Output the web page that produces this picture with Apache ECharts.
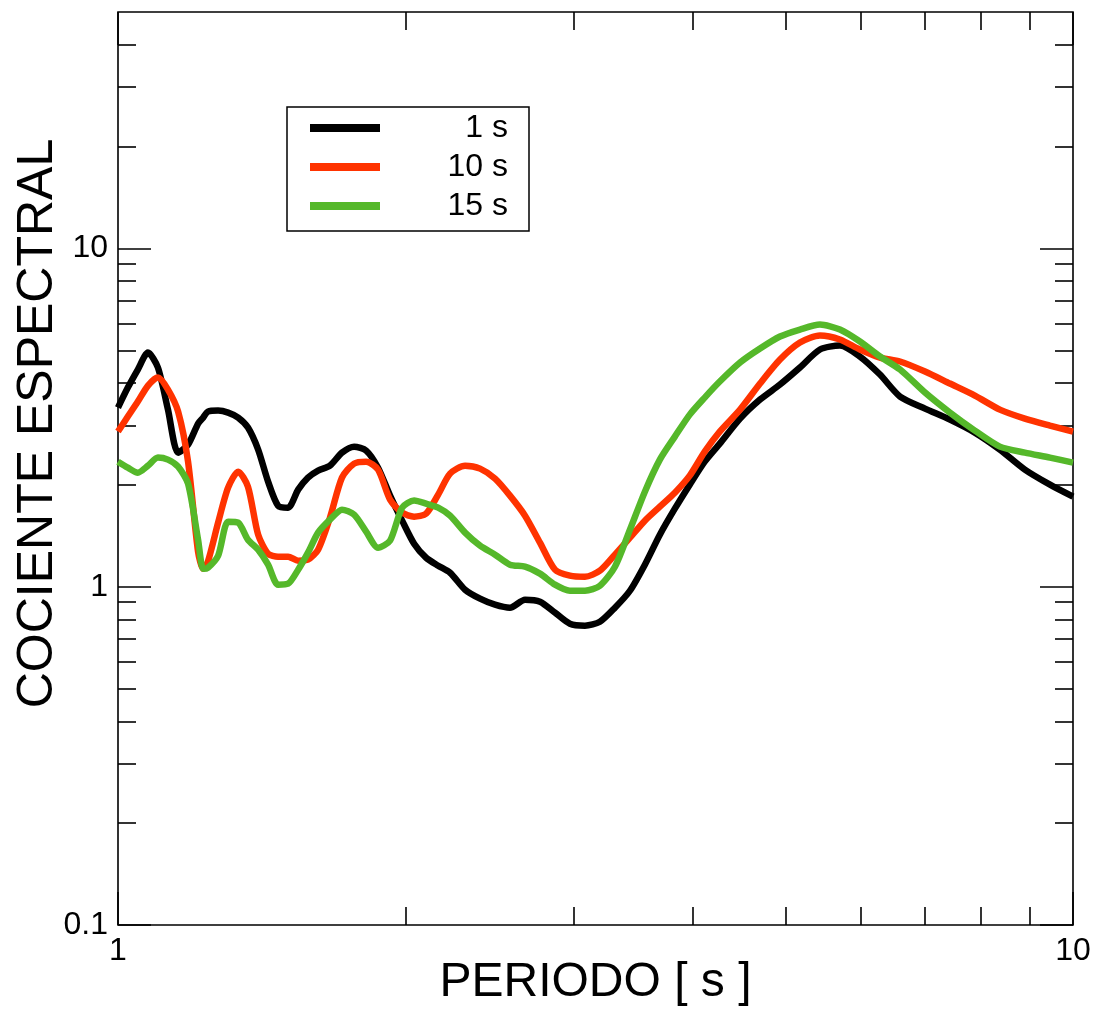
<!DOCTYPE html>
<html>
<head>
<meta charset="utf-8">
<script src="https://cdn.jsdelivr.net/npm/echarts@6/dist/echarts.min.js"></script>
<style>
  html, body { margin: 0; padding: 0; background: #ffffff; }
  #chart { width: 1103px; height: 1010px; }
</style>
</head>
<body>
<div id="chart"></div>
<script>
// Period axis samples [s]
const periods = [
  1.000, 1.024, 1.049, 1.075, 1.101, 1.128, 1.156, 1.184, 1.213, 1.228,
  1.242, 1.273, 1.304, 1.336, 1.368, 1.402, 1.436, 1.471, 1.507, 1.544,
  1.581, 1.620, 1.667, 1.716, 1.767, 1.819, 1.872, 1.927, 1.984, 2.042,
  2.102, 2.164, 2.227, 2.309, 2.394, 2.482, 2.573, 2.668, 2.766, 2.868,
  2.973, 3.083, 3.196, 3.314, 3.436, 3.562, 3.693, 3.829, 3.969, 4.115,
  4.267, 4.481, 4.702, 4.934, 5.177, 5.433, 5.701, 5.983, 6.279, 6.590,
  6.999, 7.432, 7.893, 8.383, 8.904, 9.460, 10.000
];

// Spectral ratio, 1 s window
const ratio1s = [
  3.385, 3.879, 4.386, 4.924, 4.446, 3.339, 2.491, 2.631, 3.036, 3.162,
  3.294, 3.317, 3.272, 3.162, 2.954, 2.543, 2.045, 1.736, 1.713, 1.936,
  2.101, 2.204, 2.280, 2.491, 2.595, 2.526, 2.249, 1.859, 1.568, 1.340,
  1.218, 1.154, 1.100, 0.980, 0.922, 0.885, 0.867, 0.915, 0.903, 0.838,
  0.777, 0.767, 0.788, 0.867, 0.973, 1.162, 1.425, 1.701, 2.003, 2.343,
  2.649, 3.141, 3.575, 3.960, 4.446, 5.026, 5.164, 4.792, 4.238, 3.649,
  3.362, 3.120, 2.855, 2.543, 2.219, 2.003, 1.846
];

// Spectral ratio, 10 s window
const ratio10s = [
  2.875, 3.184, 3.527, 3.933, 4.153, 3.827, 3.294, 2.343, 1.269, 1.130,
  1.186, 1.547, 1.963, 2.189, 1.976, 1.425, 1.252, 1.227, 1.227, 1.194,
  1.202, 1.287, 1.600, 2.101, 2.312, 2.343, 2.219, 1.809, 1.655, 1.611,
  1.644, 1.872, 2.159, 2.280, 2.234, 2.087, 1.859, 1.622, 1.350, 1.123,
  1.078, 1.070, 1.115, 1.244, 1.396, 1.568, 1.725, 1.897, 2.130, 2.508,
  2.875, 3.339, 3.987, 4.694, 5.271, 5.528, 5.380, 5.026, 4.759, 4.632,
  4.326, 3.987, 3.674, 3.339, 3.141, 2.995, 2.875
];

// Spectral ratio, 15 s window
const ratio15s = [
  2.343, 2.249, 2.174, 2.280, 2.408, 2.375, 2.265, 2.017, 1.377, 1.130,
  1.138, 1.235, 1.557, 1.547, 1.377, 1.287, 1.162, 1.014, 1.021, 1.123,
  1.261, 1.445, 1.578, 1.690, 1.633, 1.455, 1.304, 1.368, 1.713, 1.797,
  1.760, 1.713, 1.622, 1.445, 1.322, 1.244, 1.162, 1.146, 1.093, 1.014,
  0.973, 0.973, 1.007, 1.146, 1.474, 1.910, 2.375, 2.778, 3.227, 3.624,
  4.041, 4.600, 5.060, 5.491, 5.759, 5.958, 5.759, 5.307, 4.792, 4.386,
  3.749, 3.272, 2.894, 2.595, 2.491, 2.408, 2.327
];

const seriesNames = ['1 s', '10 s', '15 s'];
const seriesColors = ['#000000', '#ff3300', '#55b82a'];

// Tick positions (log axes)
const xLabelValues = [1, 10];
const xMajorTicks = [1, 10];
const xMinorTicks = [2, 3, 4, 5, 6, 7, 8, 9];
const yLabelValues = [0.1, 1, 10];
const yMajorTicks = [0.1, 1, 10];
const yMinorTicks = [0.2, 0.3, 0.4, 0.5, 0.6, 0.7, 0.8, 0.9,
                     2, 3, 4, 5, 6, 7, 8, 9, 20, 30, 40];

const FONT = '"Liberation Sans", Arial, Helvetica, sans-serif';
const X_MIN = 1, X_MAX = 10, Y_MIN = 0.1, Y_MAX = 50;
const MAJOR_LEN = 33, MINOR_LEN = 18;

function fmt(v) { return String(+(+v).toPrecision(3)); }

function tickAxis(kind, position, values, len, labels) {
  const ax = {
    type: 'log',
    logBase: 10,
    position: position,
    min: kind === 'x' ? X_MIN : Y_MIN,
    max: kind === 'x' ? X_MAX : Y_MAX,
    axisLine: { show: false },
    splitLine: { show: false },
    minorTick: { show: false },
    axisTick: {
      show: true, inside: true, length: len, customValues: values,
      lineStyle: { color: '#000', width: 1.6 }
    },
    axisLabel: { show: false },
    axisPointer: { show: false }
  };
  if (labels) {
    ax.axisLabel = {
      show: true, customValues: labels, formatter: fmt,
      color: '#000', fontFamily: FONT, fontSize: 32, margin: 10,
      showMinLabel: true, showMaxLabel: true
    };
  }
  return ax;
}

const xMain = tickAxis('x', 'bottom', xMajorTicks, MAJOR_LEN, xLabelValues);
xMain.name = 'PERIODO [ s ]';
xMain.nameLocation = 'middle';
xMain.nameGap = 34;
xMain.nameMoveOverlap = false;
xMain.nameTextStyle = { color: '#000', fontFamily: FONT, fontSize: 48 };

const yMain = tickAxis('y', 'left', yMajorTicks, MAJOR_LEN, yLabelValues);
yMain.name = 'COCIENTE ESPECTRAL';
yMain.nameLocation = 'middle';
yMain.nameGap = 55;
yMain.nameRotate = 90;
yMain.nameMoveOverlap = false;
yMain.nameTextStyle = {
  color: '#000', fontFamily: FONT, fontSize: 50,
  padding: [0, 0, 0, 90]
};

const option = {
  backgroundColor: '#ffffff',
  animation: false,
  grid: {
    left: 118, right: 30, top: 12, bottom: 85,
    show: true, borderColor: '#000', borderWidth: 1.6,
    backgroundColor: 'transparent', containLabel: false,
    outerBoundsMode: 'none'
  },
  legend: {
    left: 287, top: 107,
    orient: 'vertical',
    padding: [5, 21, 9, 23],
    itemGap: 7,
    itemWidth: 70, itemHeight: 8,
    icon: 'rect',
    borderColor: '#000', borderWidth: 1.5,
    backgroundColor: '#fff',
    data: seriesNames,
    formatter: name => '{r|' + name + '}',
    textStyle: {
      color: '#000', fontFamily: FONT, fontSize: 32, lineHeight: 32,
      rich: { r: { width: 123, align: 'right', fontFamily: FONT, fontSize: 32, lineHeight: 32, color: '#000' } }
    }
  },
  xAxis: [
    xMain,
    tickAxis('x', 'bottom', xMinorTicks, MINOR_LEN),
    tickAxis('x', 'top', xMajorTicks, MAJOR_LEN),
    tickAxis('x', 'top', xMinorTicks, MINOR_LEN)
  ],
  yAxis: [
    yMain,
    tickAxis('y', 'left', yMinorTicks, MINOR_LEN),
    tickAxis('y', 'right', yMajorTicks, MAJOR_LEN),
    tickAxis('y', 'right', yMinorTicks, MINOR_LEN)
  ],
  series: [ratio1s, ratio10s, ratio15s].map((vals, i) => ({
    name: seriesNames[i],
    type: 'line',
    xAxisIndex: 0,
    yAxisIndex: 0,
    data: periods.map((p, k) => [p, vals[k]]),
    showSymbol: false,
    smooth: 0.25,
    clip: true,
    lineStyle: { color: seriesColors[i], width: 6.5 },
    itemStyle: { color: seriesColors[i] }
  }))
};

const chart = echarts.init(document.getElementById('chart'), null, { renderer: 'canvas' });
chart.setOption(option);
</script>
</body>
</html>
